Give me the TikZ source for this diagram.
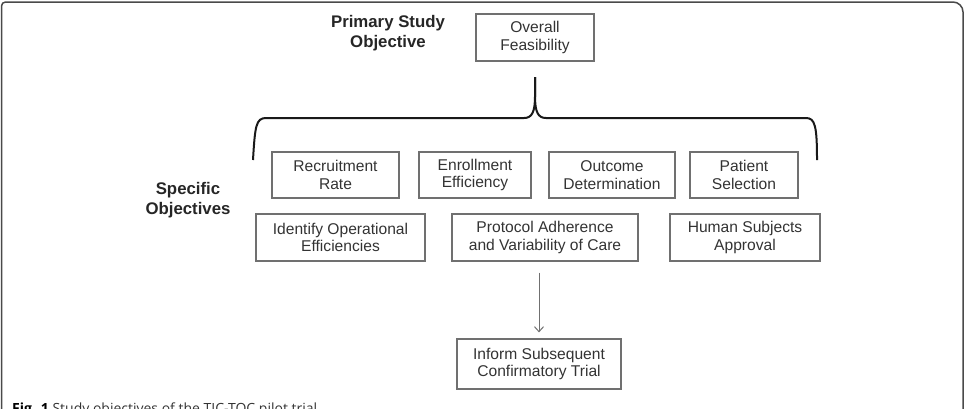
\documentclass[tikz,border=0pt]{standalone}
\usepackage{fontspec}
\setmainfont{Liberation Sans}
\newfontfamily\capfont{Open Sans}
\usetikzlibrary{arrows.meta}
\definecolor{boxline}{HTML}{707070}
\definecolor{txt}{HTML}{333333}
\definecolor{framec}{HTML}{4a4a4a}
\begin{document}
\begin{tikzpicture}[x=1pt,y=-1pt,
  obj/.style={draw=boxline, line width=1.2pt, text=txt, font=\fontsize{15.6}{17.8}\selectfont, align=center, inner sep=0pt, minimum height=46pt},
  head/.style={font=\fontsize{16.8}{19.5}\selectfont\bfseries, align=center, text=black!85},
  brace/.style={draw=black!90, line width=2pt},
  arr/.style={draw=boxline, line width=1pt, -{Straight Barb[length=5pt,width=9pt]}}]
\useasboundingbox (0,0) rectangle (965,408);
\begin{scope}
\clip (0,0) rectangle (965,408);
\draw[framec, line width=1.5pt] (1.5,420) -- (1.5,6) arc[start angle=180,end angle=270,radius=4] -- (953,2) arc[start angle=270,end angle=360,radius=10] -- (963,420);
\node[anchor=base west, font=\capfont\fontsize{14}{16}\selectfont, text=txt, inner sep=0pt] (cap) at (12,413) {\textbf{\color{black}Fig. 1} Study objectives of the TIC-TOC pilot trial};
\end{scope}
% headings
\node[head] (prim) at (388,33) {Primary Study\\Objective};
\node[head] (spec) at (188,200) {Specific\\Objectives};
% boxes
\node[obj, minimum width=118pt, minimum height=47pt] (feas) at (535,37.5) {Overall\\Feasibility};
\node[obj, minimum width=127pt] (rec) at (335.5,175) {Recruitment\\Rate};
\node[obj, minimum width=112pt] (enr) at (475,175) {Enrollment\\Efficiency};
\node[obj, minimum width=126pt] (outc) at (612,175) {Outcome\\Determination};
\node[obj, minimum width=108pt] (pat) at (744,175) {Patient\\Selection};
\node[obj, minimum width=169pt, minimum height=47pt] (ide) at (340.5,237.5) {Identify Operational\\Efficiencies};
\node[obj, minimum width=186pt, minimum height=47pt] (pro) at (545,237.5) {Protocol Adherence\\and Variability of Care};
\node[obj, minimum width=150pt, minimum height=47pt] (hum) at (745,237.5) {Human Subjects\\Approval};
\node[obj, minimum width=164pt, minimum height=50pt] (inf) at (539,364) {Inform Subsequent\\Confirmatory Trial};
% brace
\draw[brace] (253,160) .. controls (255,126) and (256,118) .. (266,118) -- (524,118) .. controls (532,118) and (535,112) .. (535,96) -- (535,77);
\draw[brace] (535,77) -- (535,96) .. controls (535,112) and (538,118) .. (546,118) -- (806,118) .. controls (815,118) and (817,126) .. (817,160);
% arrow
\draw[arr, shorten <=11pt, shorten >=6pt] (inf.north |- pro.south) -- (inf.north);
\end{tikzpicture}
\end{document}
